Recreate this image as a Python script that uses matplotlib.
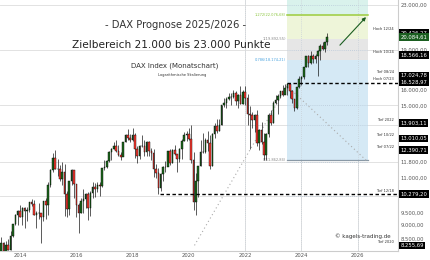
import matplotlib.pyplot as plt
from matplotlib.ticker import NullLocator
from matplotlib.transforms import blended_transform_factory
import numpy as np

# DAX Monatskerzen Mai 2013 - Dez 2024
first_open = 7914
close = [8348, 7959, 8276, 8104, 8594, 9033, 9405, 9552,
         9306, 9692, 9556, 9603, 9943, 9833, 9407, 9470, 9474, 9327, 9980, 9806,
         10694, 11402, 11966, 11454, 11414, 10945, 11309, 10259, 9660, 10850, 11382, 10743,
         9798, 9495, 9966, 10039, 10263, 9680, 10337, 10593, 10511, 10665, 10640, 11481,
         11535, 11834, 12313, 12438, 12615, 12325, 12118, 12056, 12829, 13230, 13024, 12918,
         13189, 12436, 12097, 12612, 12605, 12306, 12806, 12364, 12247, 11447, 11257, 10559,
         11173, 11516, 11526, 12344, 11727, 12399, 12189, 11939, 12428, 12867, 13236, 13249,
         12982, 11890, 9936, 10862, 11587, 12311, 12313, 12945, 12761, 11556, 13291, 13719,
         13433, 13786, 15008, 15136, 15421, 15531, 15544, 15835, 15260, 15688, 15100, 15885,
         15471, 14461, 14415, 14098, 14388, 12784, 13484, 12835, 12114, 13253, 14397, 13924,
         15128, 15365, 15629, 15922, 15664, 16148, 16447, 15947, 15387, 14810, 16215, 16752,
         16904, 17678, 18492, 17932, 18498, 18235, 18509, 18907, 19325, 19078, 19626, 20084.61]
high = [8558, 8389, 8400, 8497, 8770, 9050, 9425, 9590,
        9794, 9720, 9730, 9720, 9950, 10050, 10030, 9570, 9890, 9470, 9990, 10090,
        10810, 11420, 12220, 12390, 11920, 11640, 11800, 11670, 10420, 10850, 11430, 11300,
        10490, 9880, 10110, 10490, 10330, 10370, 10400, 10800, 10760, 10830, 10830, 11490,
        11890, 11900, 12330, 12480, 12840, 12950, 12680, 12300, 12840, 13300, 13530, 13280,
        13600, 13310, 12600, 12650, 13200, 12950, 12890, 12890, 12480, 12460, 11660, 11490,
        11230, 11560, 11820, 12360, 12440, 12440, 12660, 12210, 12490, 12990, 13370, 13430,
        13640, 13795, 12290, 11230, 11600, 12910, 13310, 13070, 13460, 13240, 13350, 13900,
        14130, 14170, 15010, 15500, 15530, 15800, 15810, 15980, 15950, 15770, 16290, 16000,
        16285, 15740, 14930, 14600, 14450, 14700, 13530, 13950, 13340, 13330, 14500, 14680,
        15270, 15660, 15710, 15900, 16330, 16430, 16529, 16480, 15990, 15390, 16250, 17000,
        17010, 17690, 18500, 18570, 18890, 18690, 18700, 18970, 19490, 19670, 19660, 20426]
low = [7900, 7655, 7800, 8100, 8100, 8560, 9000, 9000,
       9300, 9000, 8900, 9170, 9500, 9770, 9400, 8900, 9250, 8355, 9150, 9220,
       9380, 10600, 11300, 11450, 11100, 10870, 10670, 9340, 9325, 9400, 10700, 10120,
       9310, 8700, 9480, 9480, 9700, 9210, 9370, 10100, 10150, 10350, 10170, 10600,
       11370, 11470, 11800, 11900, 12460, 12300, 12080, 11870, 12060, 12800, 12950, 12840,
       12900, 12000, 11730, 11940, 12540, 12100, 12100, 12100, 11860, 11050, 11000, 10279,
       10400, 10860, 11300, 11580, 11620, 11710, 12140, 11270, 11800, 11950, 12870, 12880,
       12940, 11720, 9600, 9400, 10160, 11560, 12250, 12250, 12340, 11450, 11560, 13030,
       13310, 13440, 13820, 14880, 14820, 15320, 15000, 15500, 15050, 14820, 15070, 15060,
       15050, 13800, 12440, 13600, 13380, 12620, 12390, 12740, 11863, 11870, 13130, 13790,
       13920, 15080, 14460, 15480, 15630, 15720, 15700, 15470, 15170, 14630, 14740, 16180,
       16340, 16770, 17640, 17630, 17900, 17950, 17990, 17024.78, 18210, 18960, 18840, 19400]
open_ = [first_open] + close[:-1]
dates = 2013 + (4 + np.arange(len(close))) / 12.0

# Fibonacci-Extension (Tief 2020 -> Hoch 2022 -> Tief 2022)
fib_x = [2020.2, 2023.49, 2026.3]
fib_y = [8255.69, 16285.35, 11862.84]
fib_levels = [23216.2, 22076.68, 19892.55, 18174.21, 11862.84]
fib_names = ["1.414", "1.272", "1", "0.786", "0"]
zone_colors = ["#d9f2ec", "#eef5d9", "#e6e6e6", "#d5e9f5"]
zone_x = [2023.49, 2026.36]

# Preismarken rechts
mark_vals = [20426.27, 20084.61, 18566.16, 17024.78, 16528.97, 13903.11, 13010.05, 12390.71, 10279.20, 8255.69]
mark_txt = ["Hoch 12/24", "", "Hoch 10/24", "Tief 08/24", "Hoch 07/23", "Tief 2022", "Tief 10/22", "Tief 07/22", "Tief 12/18", "Tief 2020"]
mark_col = ["black", "#1b5e20", "black", "black", "black", "black", "black", "black", "black", "black"]

yticks = [23000, 19000, 16000, 15000, 13000, 12500, 11800, 11000, 9500, 9000, 8500]
hgrid = [23000, 19000, 15000, 13800, 11800, 10200]
years = [2014, 2016, 2018, 2020, 2022, 2024, 2026]
vgrid = [2022, 2024, 2026]


def de(v):
    return f"{v:,.2f}".replace(",", "X").replace(".", ",").replace("X", ".")


fig = plt.figure(figsize=(4.31, 2.60), dpi=100)
ax = fig.add_axes([0, 9 / 260, 398 / 431, 251 / 260])
ax.set_yscale("log")
ax.set_xlim(2013.29, 2027.43)
ax.set_ylim(8060, 23496)

for v in hgrid:
    ax.axhline(v, color="#e2e2e2", lw=0.7, zorder=0)
for v in vgrid:
    ax.axvline(v, color="#e2e2e2", lw=0.7, zorder=0)

# Zonen
for i, c in enumerate(zone_colors):
    ax.fill_between(zone_x, fib_levels[i + 1], fib_levels[i], color=c, lw=0, zorder=1)
ax.fill_between(zone_x, fib_levels[0], 30000, color=zone_colors[0], lw=0, zorder=1)
for v in hgrid:
    ax.plot(zone_x, [v, v], color="#b8c8d8", lw=0.6, ls=(0, (1, 1.5)), zorder=1.5)
for v in vgrid:
    ax.plot([v, v], [8000, 30000], color="#c8d0d8", lw=0.6, ls=(0, (1, 1.5)), zorder=1.5)
ax.plot(zone_x, [fib_levels[1]] * 2, color="#9ccc3c", lw=1.1, zorder=2)
ax.plot(zone_x, [fib_levels[4]] * 2, color="#8a99a6", lw=0.9, zorder=2)
lab_col = ["#8cc63f", "#8cc63f", "#888888", "#4aa3df", "#888888"]
for i in range(1, 5):
    ax.text(zone_x[0] - 0.05, fib_levels[i], f"{fib_names[i]}({de(fib_levels[i])})",
            fontsize=2.6, color=lab_col[i], ha="right", va="center", zorder=3)

# Fib-Verbindungslinien
ax.plot(fib_x, fib_y, color="#aaaaaa", lw=0.8, ls=(0, (1, 2.5)), zorder=2)

# Kerzen
up = [c >= o for o, c in zip(open_, close)]
ax.vlines(dates, low, high, color="black", lw=0.45, zorder=3)
bottoms = [min(o, c) for o, c in zip(open_, close)]
heights = [abs(c - o) for o, c in zip(open_, close)]
ax.bar(dates, heights, bottom=bottoms, width=0.055,
       color=["#1e6b1e" if u else "#ff3b30" for u in up],
       edgecolor="black", linewidth=0.3, zorder=4)

# Horizontale Linien
ax.plot([2018.96, 2027.43], [10279.20, 10279.20], color="black", lw=1.0, ls=(0, (2.5, 1.8)), zorder=5)
ax.plot([2023.5, 2027.43], [16528.97, 16528.97], color="black", lw=1.0, ls=(0, (2.5, 1.8)), zorder=5)

# Prognosepfeil
ax.annotate("", xy=(2026.36, 22035), xytext=(2025.3, 19215),
            arrowprops=dict(arrowstyle="-|>", color="#1b5e20", lw=0.8,
                            mutation_scale=5), zorder=6)

ax.text(2026.19, 8600, "© kagels-trading.de", fontsize=4.0, color="#333333",
        ha="center", va="center")

# Achsen
ax.yaxis.tick_right()
ax.set_yticks(yticks)
ax.set_yticklabels([de(v) for v in yticks])
ax.yaxis.set_minor_locator(NullLocator())
ax.set_xticks(years)
ax.set_xticklabels([str(y) for y in years])
ax.tick_params(axis="both", length=0, labelsize=3.8, colors="#555555", pad=2)
ax.tick_params(axis="x", pad=1.5)
for s in ["top", "left"]:
    ax.spines[s].set_visible(False)
for s in ["right", "bottom"]:
    ax.spines[s].set_color("#cccccc")
    ax.spines[s].set_linewidth(0.8)

tr = blended_transform_factory(ax.transAxes, ax.transData)
for v, t, c in zip(mark_vals, mark_txt, mark_col):
    ax.text(1.006, v, de(v), transform=tr, fontsize=3.8, color="white",
            ha="left", va="center", zorder=10, clip_on=False,
            bbox=dict(boxstyle="square,pad=0.25", fc=c, ec="none"))
    if t:
        ax.text(0.99, v * 1.006, t, transform=tr, fontsize=2.6, color="#333333",
                ha="right", va="bottom", zorder=10)

# Titel
fig.text(176 / 431, 1 - 25 / 260, "- DAX Prognose 2025/2026 -", fontsize=7.2,
         color="#333333", ha="center", va="center")
fig.text(171 / 431, 1 - 45 / 260, "Zielbereich 21.000 bis 23.000 Punkte", fontsize=7.6,
         color="#222222", ha="center", va="center")
fig.text(175 / 431, 1 - 66 / 260, "DAX Index (Monatschart)", fontsize=5.0,
         color="#333333", ha="center", va="center")
fig.text(182 / 431, 1 - 75 / 260, "Logarithmische Skalierung", fontsize=2.6,
         color="#333333", ha="center", va="center")

fig.savefig("out.png", dpi=100)
